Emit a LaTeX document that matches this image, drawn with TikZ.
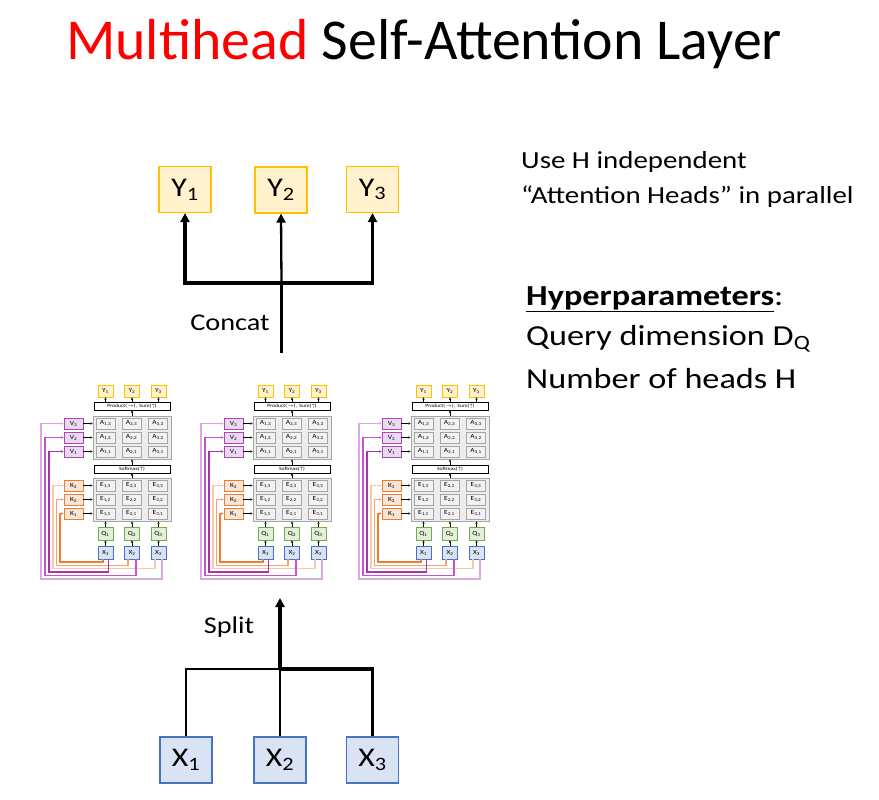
\documentclass[tikz,border=0pt]{standalone}
\usepackage{fontspec}
\setmainfont{Carlito}
\newfontfamily\bodyf[FakeStretch=1.18]{Carlito}
\usetikzlibrary{arrows.meta,calc}
\definecolor{titlered}{HTML}{FF0000}
\definecolor{yfill}{HTML}{FFF2CC}
\definecolor{ygold}{HTML}{FFC000}
\definecolor{xfill}{HTML}{DAE3F3}
\definecolor{xblue}{HTML}{4472C4}
\definecolor{qfill}{HTML}{E2F0D9}
\definecolor{qgreen}{HTML}{70AD47}
\definecolor{kfill}{HTML}{FBE5D6}
\definecolor{korange}{HTML}{ED7D31}
\definecolor{vfill}{HTML}{E9DAF1}
\definecolor{vpurple}{HTML}{AE45B5}
\definecolor{gfill}{HTML}{EDEDED}
\definecolor{cellfill}{HTML}{F2F2F2}
\definecolor{gline}{HTML}{A5A5A5}
\definecolor{kwa}{HTML}{ED7D31}
\definecolor{kwb}{HTML}{F4A46E}
\definecolor{kwc}{HTML}{F8C8A8}
\definecolor{vwa}{HTML}{A832B0}
\definecolor{vwb}{HTML}{C157C8}
\definecolor{vwc}{HTML}{DCA8E4}
\tikzset{
 bigbox/.style={draw, line width=1.2pt, minimum width=52pt, minimum height=46pt, inner sep=0pt, font=\bodyf\fontsize{27}{30}\selectfont},
 ybig/.style={bigbox, draw=ygold, fill=yfill},
 xbig/.style={bigbox, draw=xblue, fill=xfill},
 bigline/.style={line width=3.3pt},
 thinline/.style={line width=2.3pt},
 bigtip/.style={-{Triangle[length=9pt,width=9pt]}},
 sbox/.style={draw, line width=0.8pt, inner sep=0pt, font=\bodyf\fontsize{6.3}{7}\selectfont},
 sy/.style={sbox, draw=ygold, fill=yfill, minimum width=15pt, minimum height=12pt},
 sq/.style={sbox, draw=qgreen, fill=qfill, minimum width=15pt, minimum height=13pt},
 sx/.style={sbox, draw=xblue, fill=xfill, minimum width=15pt, minimum height=13pt},
 sk/.style={sbox, draw=korange, fill=kfill, minimum width=19pt, minimum height=11pt},
 sv/.style={sbox, draw=vpurple, fill=vfill, minimum width=19pt, minimum height=11pt},
 sgray/.style={draw=gline, fill=gfill, line width=0.9pt, minimum width=78pt, minimum height=43pt, inner sep=0pt},
 scell/.style={sbox, draw=gline, fill=cellfill, minimum width=19pt, minimum height=11pt},
 sbar/.style={sbox, draw=black, fill=white, minimum width=76pt, minimum height=8pt, font=\bodyf\fontsize{4.8}{5.5}\selectfont},
 sarr/.style={line width=0.6pt, -{Triangle[length=2.2pt,width=2.2pt]}},
 wire/.style={line width=1.1pt, -{Triangle[length=2.2pt,width=2.4pt]}},
 lbl/.style={anchor=base, inner sep=0pt, font=\bodyf\fontsize{24}{28}\selectfont},
 rtxt/.style={anchor=base west, inner sep=0pt, font=\bodyf\fontsize{24.5}{28}\selectfont},
 rtxtb/.style={anchor=base west, inner sep=0pt, font=\bodyf\fontsize{29}{32}\selectfont},
}
\begin{document}
\begin{tikzpicture}[x=1pt,y=-1pt]
\useasboundingbox[fill=white] (0,0) rectangle (879,800);
% title
\node[anchor=base west, inner sep=0pt, font=\fontsize{57.8}{60}\selectfont] (title) at (66,59.3) {\textcolor{titlered}{Multihead} Self-Attention Layer};
% right text
\node[rtxt] (t1) at (521,168) {Use H independent};
\node[rtxt] (t2) at (521,203) {“Attention Heads” in parallel};
\node[rtxtb] (t3) at (526,305) {\textbf{\underline{Hyperparameters}}:};
\node[rtxtb] (t4) at (526,345) {Query dimension D\textsubscript{Q}};
\node[rtxtb] (t5) at (526,388) {Number of heads H};
% big Y boxes
\node[ybig] (Y1) at (185,189.5) {Y\textsubscript{1}};
\node[ybig] (Y2) at (281,190) {Y\textsubscript{2}};
\node[ybig] (Y3) at (372.5,189.5) {Y\textsubscript{3}};
\coordinate (cj) at (281.5,283);
\coordinate (ct) at (281.5,353);
\draw[bigline] (ct) -- (cj);
\draw[bigline,bigtip] (cj) -| (Y1.south);
\draw[bigline,bigtip] (cj) -| (Y3.south);
\draw[thinline,bigtip] (cj) -- (Y2.south);
\node[lbl] (concat) at (230,330) {Concat};
% big X boxes
\node[xbig] (X1) at (186,760) {X\textsubscript{1}};
\node[xbig] (X2) at (280,760) {X\textsubscript{2}};
\node[xbig] (X3) at (372.5,760) {X\textsubscript{3}};
\coordinate (sj) at (280,669);
\coordinate (stop) at (280,598);
\draw[thinline] (X1.north) |- (sj);
\draw[thinline] (X2.north) -- (sj);
\draw[bigline] (X3.north) |- (sj);
\draw[bigline,bigtip] (sj) -- (stop);
\node[lbl] (split) at (229,633) {Split};
% three small attention heads
\foreach \h/\ox in {1/0,2/160,3/318}{
  \node[sgray] (s\h Ag) at (\ox+132,437.5) {};
  \node[sgray] (s\h Eg) at (\ox+132,499.5) {};
  \node[sbar] (s\h P) at (\ox+132,406) {Product($\rightarrow$),\enspace Sum($\uparrow$)};
  \node[sbar] (s\h S) at (\ox+132,469) {Softmax($\uparrow$)};
  \foreach \j/\cx in {1/105.5,2/132,3/158.5}{
    \node[sy] (s\h Y\j) at (\ox+\cx,391) {Y\textsubscript{\j}};
    \node[sq] (s\h Q\j) at (\ox+\cx,533.5) {Q\textsubscript{\j}};
    \node[sx] (s\h X\j) at (\ox+\cx,552.5) {X\textsubscript{\j}};
    \draw[sarr] (s\h X\j) -- (s\h Q\j);
    \draw[sarr] (s\h Q\j.north) -- (s\h Q\j.north |- s\h Eg.south);
    \draw[sarr] (s\h Y\j.south |- s\h P.north) -- (s\h Y\j.south);
  }
  \foreach \i/\cx in {1/105.5,2/131.5,3/158}{
    \foreach \r/\ay/\ey in {3/423.5/485.5,2/437.5/499.5,1/451.5/513.5}{
      \node[scell] (s\h A\i\r) at (\ox+\cx,\ay) {A\textsubscript{\i,\r}};
      \node[scell] (s\h E\i\r) at (\ox+\cx,\ey) {E\textsubscript{\i,\r}};
    }
  }
  \foreach \r/\ay/\ey in {3/423.5/485.5,2/437.5/499.5,1/451.5/513.5}{
    \node[sv] (s\h V\r) at (\ox+73.5,\ay) {V\textsubscript{\r}};
    \node[sk] (s\h K\r) at (\ox+73.5,\ey) {K\textsubscript{\r}};
    \draw[sarr] (s\h V\r.east) -- (s\h V\r.east -| s\h Ag.west);
    \draw[sarr] (s\h K\r.east) -- (s\h K\r.east -| s\h Eg.west);
  }
  \draw[sarr] (s\h Eg.north) -- (s\h S.south);
  \draw[sarr] (s\h S.north) -- (s\h Ag.south);
  \draw[sarr] (s\h Ag.north) -- (s\h P.south);
  % wires
  \draw[wire,kwc] ([xshift=-3.5pt]s\h X3.south) |- (\ox+53,568.5) |- (s\h K3.west);
  \draw[wire,kwb] ([xshift=-4pt]s\h X2.south) |- (\ox+56.7,565.5) |- (s\h K2.west);
  \draw[wire,kwa] ([xshift=-2.5pt]s\h X1.south) |- (\ox+60,562) |- (s\h K1.west);
  \draw[wire,vwc] ([xshift=3.5pt]s\h X3.south) |- (\ox+41,579) |- (s\h V3.west);
  \draw[wire,vwb] ([xshift=4pt]s\h X2.south) |- (\ox+45,575.5) |- (s\h V2.west);
  \draw[wire,vwa] ([xshift=3pt]s\h X1.south) |- (\ox+49,572) |- (s\h V1.west);
}
\end{tikzpicture}
\end{document}
